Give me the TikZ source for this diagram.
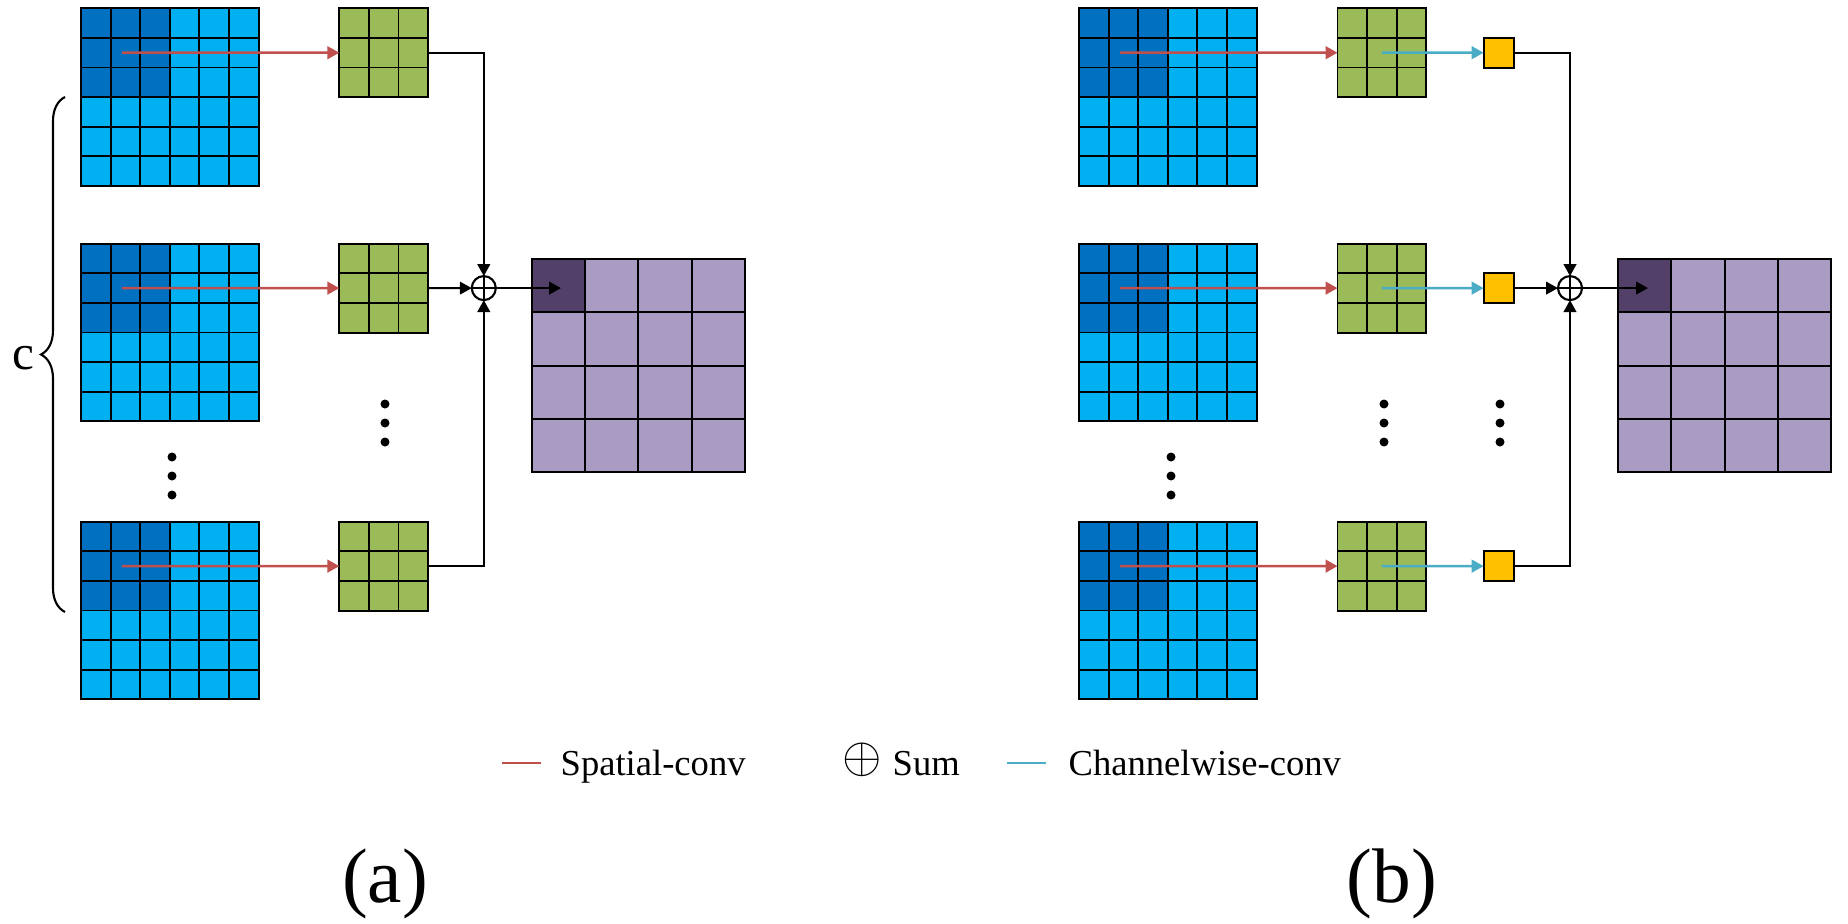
\documentclass[tikz,border=0pt]{standalone}
\usepackage{fontspec}
\setmainfont{Liberation Serif}
\usetikzlibrary{arrows.meta, decorations.pathreplacing}

\definecolor{mapblue}{HTML}{00B0F0}
\definecolor{mapdark}{HTML}{0070C0}
\definecolor{kerngreen}{HTML}{9BBB59}
\definecolor{chwyellow}{HTML}{FFC000}
\definecolor{outpurple}{HTML}{A99BC1}
\definecolor{outdark}{HTML}{534069}
\definecolor{spatialred}{HTML}{C0504D}
\definecolor{chwcyan}{HTML}{4BACC6}

\begin{document}
\begin{tikzpicture}[x=0.01cm, y=-0.01cm,
    cell/.style={line width=0.55pt},
    fmap/.style={fill=mapblue, minimum size=1.776cm, anchor=north west, inner sep=0, outer sep=0},
    kern/.style={fill=kerngreen, minimum size=0.888cm, anchor=north west, inner sep=0, outer sep=0},
    omap/.style={fill=outpurple, minimum size=2.132cm, anchor=north west, inner sep=0, outer sep=0},
    chw/.style={draw, fill=chwyellow, line width=0.55pt, minimum size=0.3cm, inner sep=0, outer sep=0},
    sumop/.style={circle, draw, line width=0.6pt, minimum size=0.24cm, inner sep=0, outer sep=0,
        path picture={\draw[line width=0.6pt] (path picture bounding box.north) -- (path picture bounding box.south)
            (path picture bounding box.west) -- (path picture bounding box.east);}},
    spatial/.style={draw=spatialred, line width=0.7pt, -{Triangle[length=3.4pt, width=3.6pt]}},
    chwise/.style={draw=chwcyan, line width=0.7pt, -{Triangle[length=3.4pt, width=3.6pt]}},
    conn/.style={line width=0.55pt, -{Triangle[length=3.4pt, width=3.6pt]}},
    legtext/.style={font=\fontsize{10.4}{12}\selectfont, inner sep=0, anchor=base west}
]

    \fill[white] (0,0) rectangle (1848,924);
    \useasboundingbox (0,0) rectangle (1848,924);

    % Input feature maps, 6x6
    \foreach \nm/\px/\py in {inA1/81/8.3, inA2/81/243.7, inA3/81/521.7, inB1/1079/8.3, inB2/1079/243.7, inB3/1079/521.7} {
        \node[fmap] (\nm) at (\px,\py) {};
        \fill[mapdark] (\px,\py) rectangle ++(88.8,88.8);
        \foreach \k in {1,...,5} {
            \draw[cell] (\px+\k*29.6,\py) -- ++(0,177.6);
            \draw[cell] (\px,\py+\k*29.6) -- ++(177.6,0);
        }
        \draw[cell] (\nm.north west) rectangle (\nm.south east);
        \coordinate (\nm-s) at (\px+41,\py+44.4);
    }

    % Spatial kernels, 3x3
    \foreach \nm/\px/\py in {kA1/339.3/8.3, kA2/339.3/243.7, kA3/339.3/521.7, kB1/1337.5/8.3, kB2/1337.5/243.7, kB3/1337.5/521.7} {
        \node[kern] (\nm) at (\px,\py) {};
        \foreach \k in {1,2} {
            \draw[cell] (\px+\k*29.6,\py) -- ++(0,88.8);
            \draw[cell] (\px,\py+\k*29.6) -- ++(88.8,0);
        }
        \draw[cell] (\nm.north west) rectangle (\nm.south east);
    }

    % Output maps, 4x4
    \foreach \nm/\px in {outA/531.8, outB/1618} {
        \node[omap] (\nm) at (\px,259) {};
        \fill[outdark] (\px,259) rectangle ++(53.3,53.3);
        \foreach \k in {1,2,3} {
            \draw[cell] (\px+\k*53.3,259) -- ++(0,213.2);
            \draw[cell] (\px,259+\k*53.3) -- ++(213.2,0);
        }
        \draw[cell] (\nm.north west) rectangle (\nm.south east);
    }

    % Channelwise kernels (b)
    \node[chw] (yB1) at (1498.6,52.7) {};
    \node[chw] (yB2) at (1498.6,288.1) {};
    \node[chw] (yB3) at (1498.6,566.1) {};

    % Sum operators
    \node[sumop] (sumA) at (483.8,288.1) {};
    \node[sumop] (sumB) at (1570,288.1) {};
    \coordinate (outA-p) at (561,288.1);
    \coordinate (outB-p) at (1648,288.1);

    % Spatial-conv arrows
    \foreach \i in {1,2,3} {
        \draw[spatial] (inA\i-s) -- (kA\i.west);
        \draw[spatial] (inB\i-s) -- (kB\i.west);
        \draw[chwise] (kB\i.center) -- (yB\i.west);
    }

    % Sum connectors (a)
    \draw[conn] (kA1.east) -| (sumA.north);
    \draw[conn] (kA2.east) -- (sumA.west);
    \draw[conn] (kA3.east) -| (sumA.south);
    \draw[conn] (sumA.east) -- (outA-p);

    % Sum connectors (b)
    \draw[conn] (yB1.east) -| (sumB.north);
    \draw[conn] (yB2.east) -- (sumB.west);
    \draw[conn] (yB3.east) -| (sumB.south);
    \draw[conn] (sumB.east) -- (outB-p);

    % Vertical dots
    \foreach \dx in {172, 1171} {
        \foreach \dy in {457, 476, 495} \fill (\dx,\dy) circle (4.5);
    }
    \foreach \dx in {385, 1384, 1500} {
        \foreach \dy in {404, 423, 442} \fill (\dx,\dy) circle (4.5);
    }

    % Channel brace
    \draw[line width=0.6pt, decorate, decoration={brace, amplitude=0.24cm}] (65,612) -- (65,97);
    \node[font=\fontsize{14}{16}\selectfont, anchor=base] (chlabel) at (23,369) {c};

    % Legend
    \coordinate (keyS) at (502,763.3);
    \coordinate (keyC) at (1007,763.3);
    \draw[spatialred, line width=0.6pt] (keyS) -- ++(39,0);
    \draw[chwcyan, line width=0.6pt] (keyC) -- ++(39,0);
    \node[legtext] (spatialtxt) at (560,775) {Spatial-conv};
    \node[legtext, font=\fontsize{13.5}{15}\selectfont] (sumsym) at (842,772) {$\oplus$};
    \node[legtext] (sumtxt) at (892,775) {Sum};
    \node[legtext] (chwtxt) at (1068,775) {Channelwise-conv};

    % Sub-figure labels
    \node[font=\fontsize{22}{26}\selectfont, anchor=base] (labA) at (385,902) {(a)};
    \node[font=\fontsize{22}{26}\selectfont, anchor=base] (labB) at (1392,902) {(b)};

\end{tikzpicture}
\end{document}
